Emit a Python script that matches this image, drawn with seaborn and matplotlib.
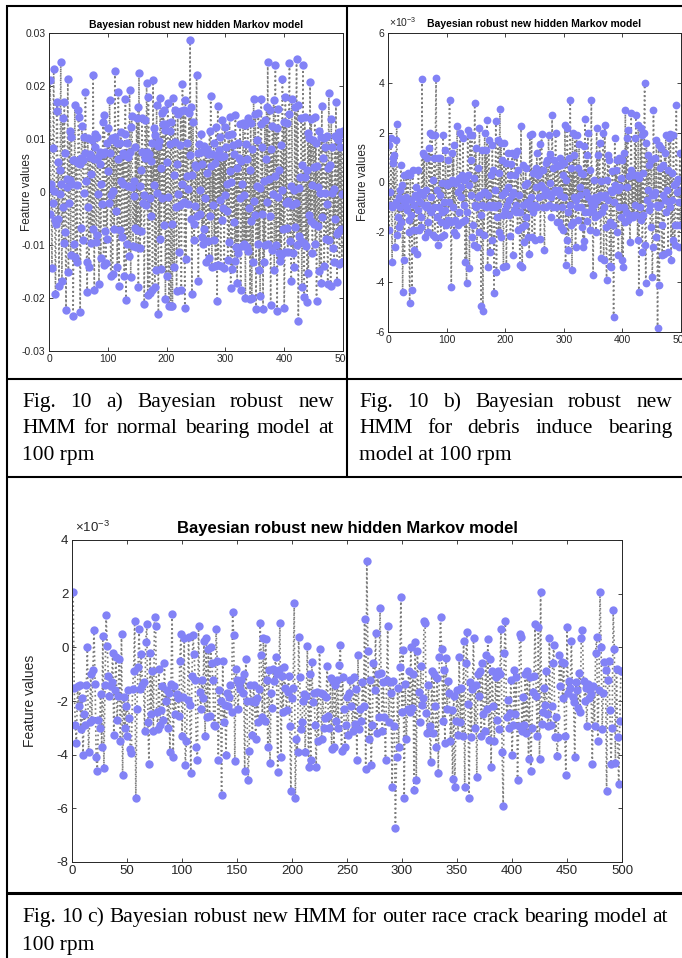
import numpy as np
import matplotlib
matplotlib.use("Agg")
import matplotlib.pyplot as plt
from matplotlib.lines import Line2D
from matplotlib.patches import Rectangle
import seaborn as sns

W, H = 682, 958

# feature values, in units of 1e-3 (x = 1..500)
normal_vals = [
    -4.2, 21.2, 0.8, 1.5, -14.4, -2.1, 8.3, 23.2, 0.2, -5.3, -19.2, -6.1, 15.2, 16.9, -5.0, 5.7, -17.8, -0.3, 4.1, 24.6,
    1.5, -16.7, 14.0, -2.8, -9.7, 17.0, 7.3, -7.5, -22.2, 2.5, 0.9, 21.4, -15.1, -2.1, 11.6, 2.2, -11.8, 10.4, 1.5, 6.1,
    -23.4, -9.8, 6.0, 16.4, -12.2, 5.8, 1.4, -13.3, 5.4, 15.4, 14.2, 5.2, -22.6, -6.8, 6.5, 12.5, 6.1, -9.0, -0.2, 10.3,
    7.4, 18.9, 2.0, -13.2, -18.9, 10.2, -2.9, -14.2, 7.1, 6.6, -9.6, 3.4, 9.8, -7.0, 22.1, 6.3, -18.4, 8.5, 10.9, -9.4,
    -8.1, 10.4, 6.6, -0.3, -17.3, 7.5, 5.2, -12.4, 1.5, -2.2, 7.2, 13.3, -13.8, 14.5, 7.5, -7.3, -13.4, 9.2, -8.9, 3.9,
    12.1, -2.0, 17.4, 7.4, -15.8, -0.5, 10.2, -15.4, 0.2, 9.8, -6.9, 22.9, 10.4, -3.5, 9.3, -14.2, 6.2, 18.9, -17.8, 9.2,
    -7.1, 11.3, 2.1, -8.5, 7.3, 1.5, 7.0, -15.9, 10.9, 17.5, -20.4, 9.2, -9.9, 1.2, 6.6, -12.1, 19.3, 7.5, -16.1, 12.2,
    14.3, 0.9, -10.2, 2.1, -0.8, -6.8, 8.4, -10.3, 13.9, -7.2, 16.1, -17.9, 22.4, 1.2, -10.6, 4.2, -7.3, 14.0, 7.5, -2.1,
    -0.6, -21.2, 6.5, 13.5, -2.5, 20.5, 7.6, -19.4, 18.0, 7.2, -19.0, -1.2, 5.9, -4.5, 9.2, -18.5, 21.2, 1.4, 12.0, -18.0,
    10.7, -14.8, 16.5, -0.1, 8.7, -23.1, 9.6, -8.9, 17.7, 4.6, -14.6, 15.0, -1.2, 12.8, 15.4, -6.3, 11.7, -20.2, 12.9, -15.8,
    5.6, 16.8, -0.9, -21.6, 9.1, 11.6, -21.5, 13.3, -6.0, -21.5, 17.8, 3.2, -14.2, 9.4, 15.5, -2.8, -18.6, 5.2, 14.7, -0.4,
    -11.4, 8.9, -2.4, 15.2, -18.4, 1.6, 20.3, -2.1, 15.4, -1.8, -21.8, 17.3, -12.7, 3.0, 9.3, -2.2, 0.5, 14.9, 7.0, 28.7,
    -5.0, 16.0, -19.3, 3.3, 13.3, -6.0, -9.0, 5.1, -2.6, 4.8, 22.1, -4.5, 7.4, -16.7, 9.1, -4.1, 0.3, 7.5, 11.0, -8.5,
    5.2, -9.9, 8.6, -6.9, -1.1, 7.8, -13.2, 8.2, 3.5, -9.2, 7.1, -12.5, 11.5, -4.6, 18.1, 4.9, -14.2, 7.1, -2.4, 9.3,
    -9.0, 5.4, -13.9, 12.3, 6.8, -20.5, 16.3, -13.7, 8.0, -1.5, 10.4, -14.0, 6.6, -5.2, 13.5, -3.1, 6.8, -14.3, 12.2, -0.6,
    8.4, -3.6, 1.6, -12.9, 10.7, -9.4, 14.1, 3.9, -18.2, 1.8, 10.9, -14.6, 8.8, -5.7, 7.2, -13.1, 14.6, -10.3, 4.6, -17.1,
    9.2, -11.6, 6.4, -1.2, 12.9, -18.4, 5.8, 1.5, -10.2, 13.1, -0.5, -9.9, 12.7, -20.0, 9.0, -10.4, 6.2, 13.9, -11.2, -3.0,
    4.2, -20.2, 13.0, -5.5, -20.0, 8.1, -13.3, 17.6, -1.7, -4.4, 14.8, -22.0, 1.1, 9.8, -9.9, 15.0, -14.8, 0.7, -19.6, 12.8,
    17.6, -4.2, 8.4, -22.0, 2.0, -13.2, 13.5, -10.0, 6.3, 16.1, -1.8, 24.5, -9.9, 2.5, 15.5, -4.5, -21.4, 8.2, -11.0, 12.4,
    -0.4, 17.4, -14.7, 3.0, 23.9, -10.0, 12.0, -22.4, -0.9, 15.6, -11.5, 4.1, -13.0, 8.8, -11.8, 0.3, 21.4, -7.0, 13.2, -21.8,
    -11.3, 18.0, -2.1, 13.0, -6.8, -11.4, -1.7, 14.7, 24.4, -9.3, 1.1, -16.8, 17.6, -2.5, -11.6, 0.3, -14.2, 16.1, -6.6, -2.0,
    25.1, -10.0, 16.5, -24.4, 0.7, -8.3, 2.8, -9.2, 13.9, -18.0, 5.1, 23.9, -9.6, -19.8, 14.1, 2.9, -10.1, 4.1, -20.7, 11.1,
    -15.3, 10.2, -4.3, 20.7, -5.4, 13.8, 1.3, -11.5, 9.9, 4.8, -6.0, 14.2, -9.8, 9.2, -20.6, 5.0, 1.0, -6.4, 11.6, -14.9,
    -0.2, 10.4, -17.1, 16.3, -4.8, 6.5, 10.2, -14.0, -0.1, 8.4, -8.8, 10.5, -2.2, -17.3, 4.5, 18.7, -9.1, 5.1, -17.7, 13.7,
    -0.1, 8.4, -10.6, 0.6, -13.3, 10.6, -5.1, 16.9, -8.0, -17.0, 9.8, -7.6, 11.3, -13.5, 8.5, -6.9, 10.9, -13.2, -0.3, 11.5,
]

debris_vals = [
    1.5, -1.9, -0.4, -0.9, 1.8, -1.0, -3.2, 0.8, 1.0, -0.9, 1.1, -2.6, -0.8, 1.7, 2.35, -2.1, -1.4, -0.6, -1.8, -0.3,
    -1.0, 0.7, -1.6, -0.1, -4.4, -0.7, 0.3, -3.1, -0.8, -0.6, 0.3, -1.1, -1.0, 0.4, -1.5, -2.0, -4.85, 0.3, -1.3, -0.7,
    -4.3, 0.5, -1.9, -0.9, -2.7, -0.5, -0.2, -1.9, -2.85, -0.6, -1.1, 0.5, -1.9, -0.8, -0.4, -1.4, -1.8, 4.17, -0.5, 1.2,
    -0.9, 1.1, -2.2, -1.0, -0.3, 1.0, -0.9, -2.0, -1.6, 1.4, -1.1, 2.0, -1.2, -0.6, 1.9, -2.1, 0.1, -1.0, 1.0, -2.2,
    1.9, 4.2, -0.3, -1.4, -2.5, 1.0, -1.0, -0.5, 1.0, -2.2, -1.6, 0.0, -1.2, 1.9, -0.8, -2.1, -1.1, 1.3, -1.7, -0.1,
    0.0, 0.9, -1.5, -0.8, 3.3, 0.0, -1.6, -4.2, 0.1, 1.2, -1.0, 1.5, -2.0, 0.0, -1.5, -2.1, 0.05, 2.25, -0.4, -1.7,
    -1.2, 0.2, 2.0, -0.6, -0.2, 0.3, -1.6, 1.8, -0.9, 0.1, -1.5, -3.2, 0.2, -4.05, -1.2, 2.1, 0.3, -0.1, -3.45, 1.9,
    -0.5, 0.9, 1.9, -2.2, -1.7, -2.5, 0.2, 3.2, -0.9, 1.4, -1.0, -2.6, 0.6, -0.6, -2.0, 2.2, -0.5, -1.3, -4.95, -0.9,
    1.3, -5.15, -0.4, -2.1, 2.0, -0.4, 1.3, -1.0, 2.5, -3.4, -0.5, 1.7, -0.9, -2.8, 0.3, -1.0, -2.3, 1.5, -0.9, 0.5,
    -4.45, -1.0, -0.3, 2.45, -3.6, -1.4, -0.9, 1.7, -2.0, 0.4, 2.95, -2.2, 1.6, -0.5, 0.9, -1.3, -3.4, 1.6, -0.4, -1.1,
    0.8, -3.35, -0.9, -0.2, 1.2, -1.3, -0.7, 0.3, -2.15, 0.75, -0.5, 1.2, -2.9, -0.4, -1.1, 1.1, 0.3, -0.9, -1.2, 1.25,
    -1.9, 0.5, -1.2, -0.5, -3.3, -1.2, 2.25, -1.8, -3.4, -0.9, 0.7, -2.4, -0.1, -1.7, 0.6, -1.4, -0.8, 0.0, -2.2, -0.8,
    -2.85, 1.9, -1.0, -0.6, 1.95, -2.2, 0.4, -1.2, 0.4, -2.3, -0.9, 0.6, -0.2, 1.2, -1.0, 0.3, 0.4, -0.6, 1.55, -2.25,
    -0.1, 1.95, -0.2, -1.0, 0.5, -0.5, -2.7, -0.3, 0.8, -1.0, 0.9, -0.4, -0.5, 1.9, -0.9, 0.0, 1.15, -0.6, -1.4, 2.7,
    0.6, -1.0, -0.4, 0.9, -0.3, 2.0, -1.0, 0.7, -1.6, 0.65, -0.3, -1.6, 1.0, -0.5, -1.8, 0.7, -1.0, 0.3, -1.9, 0.8,
    -0.6, 2.3, -3.3, 0.1, -2.3, 2.2, -1.2, -2.7, 1.0, -0.9, 3.3, -1.7, 0.6, -3.5, 2.0, -1.6, 1.1, -0.6, 1.9, -2.6,
    -0.7, 1.9, -1.0, 0.6, -1.5, 1.55, -0.5, -0.2, -1.0, 0.4, -1.8, 0.35, -2.6, 1.45, -2.35, 2.55, -1.2, -0.4, 1.1, -1.55,
    2.0, -0.6, -1.2, 0.5, -1.9, -0.8, 3.3, -1.0, -1.2, -3.7, -0.9, 0.1, -1.4, -0.6, -2.0, 2.2, -0.7, 1.1, -1.3, -0.6,
    1.6, -0.5, -3.05, 0.05, -1.2, -0.6, 2.0, -3.1, -1.0, 2.3, -0.5, -1.8, -3.9, 0.1, 1.1, -0.7, 0.9, -3.35, -1.6, -0.3,
    -3.4, -0.4, 0.45, -1.7, -5.4, -0.8, 1.8, -0.1, 0.5, -2.0, 0.9, -0.3, -2.9, -1.0, 1.0, -0.2, -1.4, 0.2, -3.1, 0.9,
    -3.4, -1.0, 1.2, -1.6, 2.9, -1.2, 1.8, -0.2, 2.1, -1.5, 0.25, -1.3, -2.4, 0.5, 2.8, -1.4, 0.3, -1.4, 0.3, -1.3,
    1.8, -0.9, 2.7, -1.3, 0.3, -2.3, 2.3, -4.4, 0.2, -1.0, 2.2, -1.5, 1.9, -2.8, 0.4, -1.3, 2.0, 4.0, -2.5, -4.05,
    1.6, -0.7, -0.3, 1.1, -1.1, 0.7, -0.9, -1.8, 0.9, -0.5, -3.8, -2.6, 2.9, -0.5, 1.0, -0.4, -2.2, 1.7, -0.9, -5.85,
    -1.0, 1.5, -4.1, 0.6, -0.9, 1.4, -1.7, -2.9, 0.7, -0.5, -2.85, 1.2, -0.7, 1.9, -1.2, -0.3, 0.5, -2.8, 1.8, -0.8,
    -1.0, 1.95, -3.1, 0.4, -0.7, -2.3, 1.9, -0.1, -2.5, -1.7, 0.0, 3.1, -0.4, -1.7, 0.15, -2.6, -0.8, 1.2, -1.7, -0.3,
]

outer_vals = [
    2.06, -1.5, -2.9, -3.55, -1.45, -2.2, -1.4, -3.05, -1.9, -4.0, -2.5, -2.9, -1.4, 0.0, -3.9, -2.8, -1.0, -2.7, -0.85, 0.65,
    -1.35, -4.1, -4.6, -2.7, -3.0, -1.75, -3.7, 0.42, -4.5, -1.4, 1.2, 0.05, -1.05, -1.8, -1.45, -1.3, -0.2, -3.25, -1.6, -0.35,
    -2.7, -1.8, -0.45, -3.5, 0.5, -4.75, -1.85, -3.0, -2.2, -3.3, -1.6, -2.65, -3.8, -3.95, -1.55, -0.9, 1.0, -5.6, -2.3, -0.75,
    0.7, -1.55, -0.25, -1.4, -1.3, -3.1, 0.2, 0.86, -2.8, -4.35, -0.2, -2.5, -0.9, -3.1, 1.13, 0.8, -2.4, -3.05, -0.8, -2.9,
    -2.35, -1.45, -2.7, -0.6, -2.0, -1.6, -3.0, -1.7, -3.9, -1.35, 1.26, -4.1, -1.45, -2.5, -1.75, -1.9, -2.55, -0.5, 0.5, -3.3,
    -1.85, 0.35, -4.4, -3.5, -1.95, 0.4, -2.15, -4.7, -1.05, 0.45, -0.25, -1.2, -3.7, -4.2, 0.8, -1.65, -2.3, -1.2, -1.9, 0.25,
    -3.3, 0.35, -2.6, -0.05, -2.55, 0.0, -0.6, -1.2, -2.9, -2.95, 0.7, -0.5, -4.2, -1.6, -2.0, -5.5, -0.5, -2.8, -2.15, -4.0,
    -1.7, -2.2, -1.85, -1.4, -2.4, 1.3, 0.45, -4.25, -0.8, -1.2, -2.3, -1.35, -1.55, -1.2, -1.7, -1.0, -4.6, -0.45, -2.0, -4.95,
    -3.85, -1.4, -2.0, -3.25, -1.4, -2.05, -3.4, -1.9, -2.8, -1.55, 0.9, -0.3, -2.6, 0.35, -2.75, 0.3, -1.2, -3.7, -0.85, -4.3,
    -1.7, -2.25, -0.8, -1.25, -0.35, -1.0, -4.65, -0.85, 0.9, -4.1, -1.05, -2.4, -0.75, -1.5, -2.35, -1.65, -1.05, -2.95, -5.35, -1.9,
    -1.5, 1.65, -5.6, -3.4, -3.9, 0.4, -1.1, -3.05, -2.8, -2.0, -1.75, -3.9, -1.8, 0.05, -4.45, -1.0, -4.2, -0.55, -2.05, -1.7,
    -2.9, -4.45, -1.65, -3.5, -0.05, -1.7, -3.4, -1.75, -3.0, -2.65, -1.85, -0.7, -2.55, -3.0, -1.15, -3.8, -1.25, -3.7, -1.4, -2.75,
    -1.2, -3.0, -0.65, 0.1, -3.85, -1.1, -2.3, -3.7, -2.9, -1.85, -3.25, -1.7, -1.2, -2.2, -3.1, -1.1, -2.85, -1.55, -4.2, -0.3,
    -3.05, -2.3, -2.75, -1.3, -2.2, 1.07, -4.55, 3.23, -0.15, -3.4, -1.2, -4.4, -2.9, -0.6, -1.6, 0.55, -3.2, -1.0, -2.6, 1.46,
    -0.95, -3.1, -1.3, -2.6, -4.2, -1.2, 0.8, -2.8, -1.3, -1.7, -5.2, -1.25, -2.95, -6.75, -4.1, -1.5, -3.7, -0.75, 1.87, -2.4,
    -0.1, -5.6, -1.35, -3.4, -2.3, -0.9, -2.4, 0.0, -2.25, -1.0, -5.3, 0.2, -4.95, -0.15, -1.65, -2.8, -0.7, -2.15, -1.9, 1.0,
    0.9, -2.45, -3.2, -1.4, -2.95, -4.27, -0.9, -3.2, -1.0, -2.2, -3.7, -1.15, -4.67, -0.35, 1.13, -0.05, -2.75, -0.85, -3.55, -0.4,
    -2.3, -1.25, -1.7, -3.5, -2.35, -4.9, -1.8, -5.2, -2.75, -1.6, -3.25, -0.35, -2.8, -1.5, -3.3, 0.25, -5.2, -0.6, 0.58, -2.1,
    -5.63, -1.3, -3.35, -1.55, 0.35, -3.0, -1.4, -4.83, -1.0, -1.8, -0.9, -3.3, -0.6, -2.5, -3.1, -0.3, -2.3, 0.3, -3.45, -0.45,
    -4.45, -0.9, -2.2, -3.5, -1.1, -2.7, -0.9, -3.05, -1.0, 0.68, -3.9, -5.9, -0.2, 0.97, -2.6, -1.95, -3.0, -2.45, -1.2, -4.0,
    -2.9, -0.85, -2.5, -1.1, -4.95, -2.95, 0.5, 0.4, -3.1, -1.85, -2.9, -1.0, -3.2, -0.9, -4.15, -1.1, -4.6, -3.0, -1.65, -1.05,
    0.86, -1.8, -3.3, 0.75, -4.15, 2.08, -2.85, -2.4, -1.5, -2.15, -0.9, -2.5, -2.95, 0.35, -2.9, -2.2, -0.6, 0.1, -3.35, -2.6,
    -4.05, -3.35, -0.3, -1.45, -0.55, -1.9, -0.6, -3.3, -4.77, 0.74, -1.7, -1.25, -1.5, 0.25, -1.85, -2.05, -4.1, -1.3, -1.6, -2.25,
    -0.95, -2.4, 0.35, 0.66, -1.25, -2.0, -1.5, -2.95, -1.35, -1.9, -1.55, -1.75, -4.36, -1.45, -2.95, -0.2, 0.4, -3.5, -1.6, 2.06,
    0.0, -3.05, -1.7, -0.55, -0.85, -5.36, -1.2, -0.5, -2.35, -4.33, -3.0, 1.38, -0.05, -4.3, -0.8, -3.35, -5.1, -2.75, -0.9, -0.9,
]

plot_title = "Bayesian robust new hidden Markov model"
y_name = "Feature values"

xticks_ab = [0, 100, 200, 300, 400, 500]
xticks_c = [0, 50, 100, 150, 200, 250, 300, 350, 400, 450, 500]
yticks_a = [-0.03, -0.02, -0.01, 0, 0.01, 0.02, 0.03]
ylabels_a = ["-0.03", "-0.02", "-0.01", "0", "0.01", "0.02", "0.03"]
yticks_b = [-6, -4, -2, 0, 2, 4, 6]
yticks_c = [-8, -6, -4, -2, 0, 2, 4]

cap_a = ["Fig. 10 a) Bayesian robust new", "HMM for normal bearing model at", "100 rpm"]
cap_b = ["Fig. 10 b) Bayesian robust new", "HMM for debris induce bearing", "model at 100 rpm"]
cap_c = ["Fig. 10 c) Bayesian robust new HMM for outer race crack bearing model at", "100 rpm"]

sns.set_style("ticks")
plt.rcParams["font.family"] = ["Liberation Sans", "DejaVu Sans"]
plt.rcParams["axes.unicode_minus"] = False
plt.rcParams["mathtext.fontset"] = "custom"
plt.rcParams["mathtext.rm"] = "Liberation Sans"
plt.rcParams["mathtext.it"] = "Liberation Sans"

fig = plt.figure(figsize=(W / 100, H / 100), dpi=100)
fig.patch.set_facecolor("white")


def box(l, t, r, b):
    return [l / W, 1 - b / H, (r - l) / W, (b - t) / H]


def hmm_panel(rect, vals, ylim, yticks, ylabels, xticks, fs, tfs, lfs, ms, tpad, ylab_x, mult=False):
    ax = fig.add_axes(rect)
    x = np.arange(1, len(vals) + 1)
    y = np.array(vals) * 1e-3
    sns.lineplot(x=x, y=y, ax=ax, estimator=None, sort=False,
                 color="#7c7c7c", linestyle=":", linewidth=1.2,
                 marker="o", markersize=ms, markerfacecolor="#8282f6",
                 markeredgecolor="#8282f6", markeredgewidth=0)
    ax.set_xlim(0, 500)
    ax.set_ylim(*ylim)
    ax.set_xticks(xticks)
    ax.set_xticklabels([str(t) for t in xticks])
    ax.set_yticks(yticks)
    ax.set_yticklabels(ylabels)
    ax.tick_params(direction="in", top=True, right=True, length=3, width=0.6,
                   labelsize=fs, pad=2.5, colors="#262626")
    for sp in ax.spines.values():
        sp.set_linewidth(0.7)
        sp.set_color("#262626")
    ax.set_title(plot_title, fontsize=tfs, fontweight="bold", pad=tpad, color="black")
    ax.set_xlabel("")
    ax.set_ylabel(y_name, fontsize=lfs, color="#262626")
    ax.yaxis.set_label_coords(ylab_x, 0.5)
    if mult:
        ax.text(0.005, 1.015, r"$\times10^{-3}$", transform=ax.transAxes,
                ha="left", va="bottom", fontsize=fs, color="#262626")
    return ax


hmm_panel(box(49, 33, 343, 351), normal_vals, (-0.03, 0.03), yticks_a, ylabels_a,
          xticks_ab, 7.5, 7.5, 8.5, 6, 3.5, -0.054)
hmm_panel(box(388, 33, 681, 332), debris_vals, (-6e-3, 6e-3), [v * 1e-3 for v in yticks_b],
          [str(v) for v in yticks_b], xticks_ab, 7.5, 7.5, 8.5, 5.6, 4.3, -0.065, mult=True)
hmm_panel(box(72, 540, 622, 862), outer_vals, (-8e-3, 4e-3), [v * 1e-3 for v in yticks_c],
          [str(v) for v in yticks_c], xticks_c, 9.5, 12, 10, 6, 5, -0.064, mult=True)

# hide the part of panel a that runs past its cell
fig.add_artist(Rectangle((346 / W, 1 - 378 / H), 18 / W, 26 / H, transform=fig.transFigure,
                         facecolor="white", edgecolor="none", zorder=5))

# table rules
def rule(x0, y0, x1, y1, lw=1.5):
    fig.add_artist(Line2D([x0 / W, x1 / W], [1 - y0 / H, 1 - y1 / H], transform=fig.transFigure,
                          color="black", linewidth=lw, zorder=6, solid_capstyle="butt"))


rule(6, 6, 682, 6)
rule(7, 5, 7, 958)
rule(347, 6, 347, 478)
rule(6, 379, 682, 379)
rule(6, 477, 682, 477)
rule(6, 893, 682, 893, lw=2.2)

# captions
renderer = fig.canvas.get_renderer()
cap_kw = dict(fontfamily=["Liberation Serif", "DejaVu Serif"], fontsize=15.5, va="baseline",
              ha="left", color="black")


def caption_line(text, x0, x1, ybase, justify=True):
    if not justify:
        fig.text(x0 / W, 1 - ybase / H, text, **cap_kw)
        return
    words = text.split()
    items = [fig.text(0, 0, w, **cap_kw) for w in words]
    widths = [t.get_window_extent(renderer=renderer).width for t in items]
    gap = (x1 - x0 - sum(widths)) / (len(words) - 1)
    xpos = x0
    for t, w in zip(items, widths):
        t.set_position((xpos / W, 1 - ybase / H))
        xpos += w + gap


caption_line(cap_a[0], 22, 334, 407)
caption_line(cap_a[1], 22, 334, 433)
caption_line(cap_a[2], 22, 334, 460, justify=False)
caption_line(cap_b[0], 359, 672, 407)
caption_line(cap_b[1], 359, 672, 433)
caption_line(cap_b[2], 359, 672, 460, justify=False)
caption_line(cap_c[0], 22, 668, 922)
caption_line(cap_c[1], 22, 668, 950, justify=False)

fig.savefig("out.png", dpi=100, facecolor="white")
